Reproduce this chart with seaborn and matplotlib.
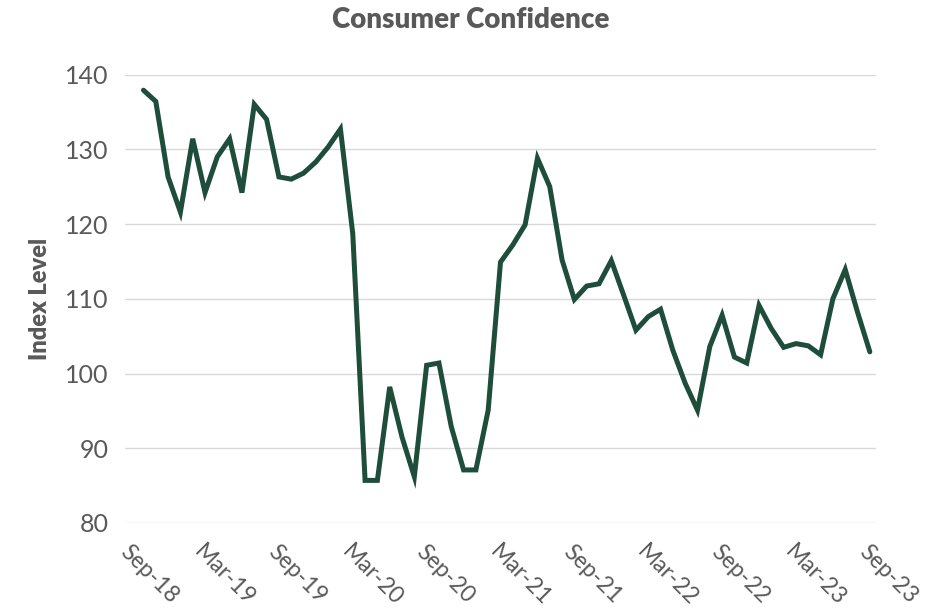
import matplotlib
matplotlib.use("Agg")
import matplotlib.pyplot as plt
import seaborn as sns
import pandas as pd

# Data (monthly, Oct-18 .. Sep-23)
months = ["Oct-18", "Nov-18", "Dec-18", "Jan-19", "Feb-19", "Mar-19", "Apr-19", "May-19",
          "Jun-19", "Jul-19", "Aug-19", "Sep-19", "Oct-19", "Nov-19", "Dec-19", "Jan-20",
          "Feb-20", "Mar-20", "Apr-20", "May-20", "Jun-20", "Jul-20", "Aug-20", "Sep-20",
          "Oct-20", "Nov-20", "Dec-20", "Jan-21", "Feb-21", "Mar-21", "Apr-21", "May-21",
          "Jun-21", "Jul-21", "Aug-21", "Sep-21", "Oct-21", "Nov-21", "Dec-21", "Jan-22",
          "Feb-22", "Mar-22", "Apr-22", "May-22", "Jun-22", "Jul-22", "Aug-22", "Sep-22",
          "Oct-22", "Nov-22", "Dec-22", "Jan-23", "Feb-23", "Mar-23", "Apr-23", "May-23",
          "Jun-23", "Jul-23", "Aug-23", "Sep-23"]
index_level = [137.9, 136.4, 126.3, 121.6, 131.4, 124.2, 129.0, 131.4,
               124.2, 136.0, 134.0, 126.3, 126.0, 126.8, 128.3, 130.3,
               132.7, 118.7, 85.7, 85.7, 98.2, 91.5, 86.2, 101.1,
               101.4, 92.9, 87.1, 87.1, 95.1, 114.9, 117.2, 119.9,
               128.8, 125.0, 115.2, 109.9, 111.7, 112.0, 115.1, 110.5,
               105.8, 107.6, 108.6, 103.1, 98.7, 95.1, 103.6, 107.8,
               102.2, 101.4, 109.1, 106.0, 103.5, 104.0, 103.7, 102.5,
               110.0, 113.9, 108.2, 102.9]
axis_months = ["Sep-18"] + months  # category slots on the axis
tick_labels = ["Sep-18", "Mar-19", "Sep-19", "Mar-20", "Sep-20", "Mar-21",
               "Sep-21", "Mar-22", "Sep-22", "Mar-23", "Sep-23"]
y_ticks = [80, 90, 100, 110, 120, 130, 140]

sns.set_theme(style="white")
plt.rcParams['font.family'] = ['Lato', 'DejaVu Sans']

df = pd.DataFrame({"pos": [axis_months.index(m) for m in months], "value": index_level})

fig = plt.figure(figsize=(9.53, 6.16), dpi=100)
ax = fig.add_axes([125 / 953, 1 - 523 / 616, (876 - 125) / 953, (523 - 74.5) / 616])

sns.lineplot(data=df, x="pos", y="value", ax=ax, color="#1e4d3a", linewidth=3.6,
             solid_joinstyle="miter", solid_capstyle="round")

ax.set_xlim(-0.5, len(axis_months) - 0.5)
ax.set_ylim(80, 140)
ax.set_yticks(y_ticks)
ax.set_yticklabels([str(v) for v in y_ticks])
ax.set_xticks([axis_months.index(t) for t in tick_labels])
ax.set_xticklabels(tick_labels, rotation=-45, ha="left", va="top", rotation_mode="anchor")

ax.grid(axis="y", color="#d9d9d9", linewidth=1.0)
ax.grid(axis="x", visible=False)
for s in ax.spines.values():
    s.set_visible(False)
ax.tick_params(axis="y", length=0, pad=12, labelsize=18, labelcolor="#595959")
ax.tick_params(axis="x", length=0, pad=13, labelsize=16.5, labelcolor="#595959")
ax.set_axisbelow(True)

ax.set_xlabel("")
ax.set_ylabel("Index Level", fontsize=17, fontweight="heavy", color="#595959", labelpad=10)
fig.text(471 / 953, 1 - 20 / 616, "Consumer Confidence", ha="center", va="center",
         fontsize=20, fontweight="heavy", color="#595959")

fig.savefig("out.png", dpi=100, facecolor="white")
